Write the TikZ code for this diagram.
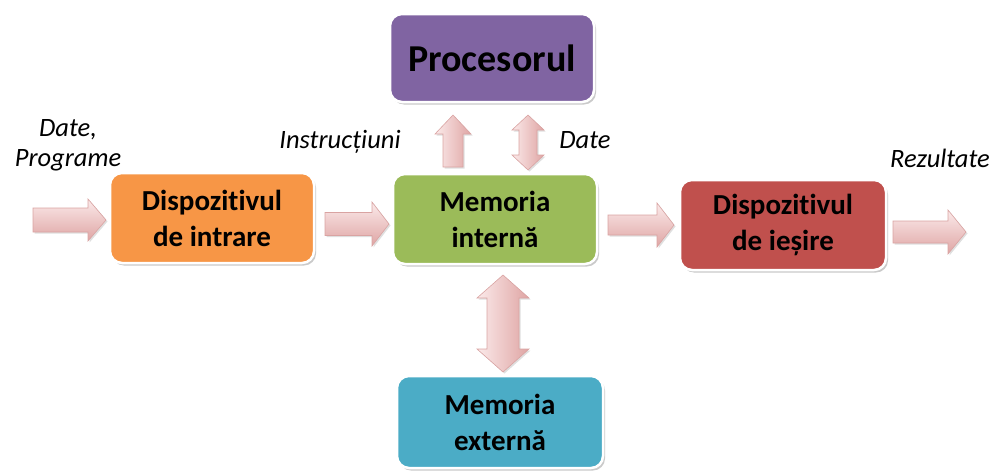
\documentclass[tikz,border=0pt]{standalone}
\usepackage{fontspec}
\setmainfont{Carlito}[Ligatures={NoCommon}]
\usetikzlibrary{shadows}
\definecolor{cproc}{HTML}{8064A2}
\definecolor{cin}{HTML}{F79646}
\definecolor{cmem}{HTML}{9BBB59}
\definecolor{cout}{HTML}{C0504D}
\definecolor{cext}{HTML}{4BACC6}
\definecolor{plight}{HTML}{FBEAEA}
\definecolor{pdark}{HTML}{DFA5A4}
\definecolor{pedge}{HTML}{D9A3A2}
\tikzset{
  box/.style={draw=white, line width=2.5pt, rounded corners=12pt, align=center,
    font=\bfseries\fontsize{29}{36}\selectfont,
    drop shadow={shadow xshift=2pt, shadow yshift=-2.5pt, opacity=0.35, fill=black!60}},
  lbl/.style={font=\itshape\fontsize{26.5}{30}\selectfont, align=center, inner sep=0pt},
  harr/.style={draw=pedge, line width=0.6pt, top color=plight, bottom color=pdark,
    drop shadow={shadow xshift=1.5pt, shadow yshift=-1.5pt, opacity=0.25, fill=black!50}},
  varr/.style={draw=pedge, line width=0.6pt, left color=plight, right color=pdark,
    drop shadow={shadow xshift=1.5pt, shadow yshift=-1.5pt, opacity=0.25, fill=black!50}}
}
\newcommand{\harrow}[6]{\path[harr] (#1,#3-#4) -- (#6,#3-#4) -- (#6,#3-#5) -- (#2,#3) -- (#6,#3+#5) -- (#6,#3+#4) -- (#1,#3+#4) -- cycle;}
\newcommand{\varrowup}[6]{\path[varr] (#1-#4,#2) -- (#1-#4,#6) -- (#1-#5,#6) -- (#1,#3) -- (#1+#5,#6) -- (#1+#4,#6) -- (#1+#4,#2) -- cycle;}
\newcommand{\vdarrow}[6]{\path[varr] (#1,#2) -- (#1+#5,#2+#6) -- (#1+#4,#2+#6) -- (#1+#4,#3-#6) -- (#1+#5,#3-#6) -- (#1,#3) -- (#1-#5,#3-#6) -- (#1-#4,#3-#6) -- (#1-#4,#2+#6) -- (#1-#5,#2+#6) -- cycle;}
\begin{document}
\begin{tikzpicture}[x=1pt,y=-1pt]
\useasboundingbox (0,0) rectangle (992,471);
% boxes
\node[box, fill=cproc, minimum width=204pt, minimum height=88pt, font=\bfseries\fontsize{38}{42}\selectfont] (proc) at (492,58) {Procesorul};
\node[box, fill=cin, minimum width=204pt, minimum height=90pt] (in) at (212,218) {Dispozitivul\\de intrare};
\node[box, fill=cmem, minimum width=204pt, minimum height=90pt] (mem) at (495,219) {Memoria\\internă};
\node[box, fill=cout, minimum width=206pt, minimum height=90pt] (out) at (783,225) {Dispozitivul\\de ieșire};
\node[box, fill=cext, minimum width=206pt, minimum height=92pt] (ext) at (500,422) {Memoria\\externă};
% arrows
\harrow{33}{106}{220}{12}{21}{88}
\harrow{325}{389}{224}{11.5}{22}{372}
\harrow{608}{674}{225}{10}{22}{657}
\harrow{893}{966}{232}{11}{22}{948}
\varrowup{453}{167}{115}{10}{18}{134}
\vdarrow{528}{115}{170}{9}{16}{15}
\vdarrow{503}{275}{372}{16}{26}{23}
% labels
\node[lbl] (l1) at (68,145) {Date,\\Programe};
\node[lbl] (l2) at (340,142) {Instrucțiuni};
\node[lbl] (l3) at (585,140) {Date};
\node[lbl] (l4) at (940,158) {Rezultate};
\end{tikzpicture}
\end{document}
